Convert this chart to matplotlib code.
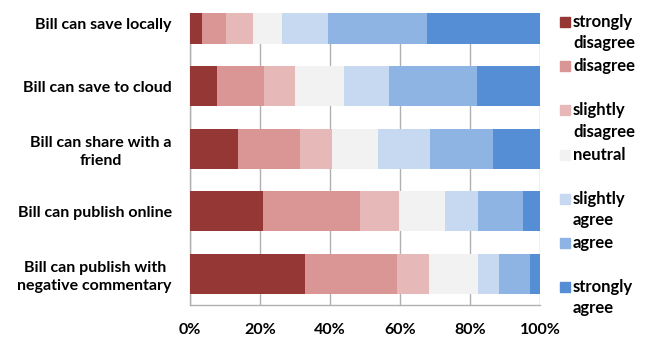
import matplotlib
matplotlib.use('Agg')
import matplotlib.pyplot as plt
from matplotlib.patches import Rectangle
import numpy as np

plt.rcParams['font.family'] = ['Lato', 'DejaVu Sans']
plt.rcParams['font.weight'] = 'bold'

# Statements (top to bottom)
statements = [
    'Bill can save locally',
    'Bill can save to cloud',
    'Bill can share with a\nfriend',
    'Bill can publish online',
    'Bill can publish with\nnegative commentary',
]

levels = ['strongly\ndisagree', 'disagree', 'slightly\ndisagree', 'neutral',
          'slightly\nagree', 'agree', 'strongly\nagree']
colors = ['#953735', '#d99694', '#e6b9b8', '#f2f2f2', '#c6d9f1', '#8eb4e3', '#558ed5']

# Percentage share of each response level, per statement
strongly_disagree = [3.4, 7.8, 13.7, 20.8, 32.9]
disagree = [6.9, 13.4, 17.7, 27.8, 26.3]
slightly_disagree = [7.6, 8.8, 9.1, 11.1, 9.0]
neutral = [8.5, 14.1, 13.1, 13.2, 14.2]
slightly_agree = [13.1, 12.7, 15.1, 9.4, 6.0]
agree = [28.2, 25.1, 17.8, 12.7, 8.7]
strongly_agree = [32.3, 18.1, 13.5, 5.0, 2.9]

series = [strongly_disagree, disagree, slightly_disagree, neutral,
          slightly_agree, agree, strongly_agree]

fig = plt.figure(figsize=(6.45, 3.37), dpi=100)
ax = fig.add_axes([190 / 645, 1 - 305 / 337, 350 / 645, 292 / 337])

ypos = np.arange(len(statements))[::-1]
left = np.zeros(len(statements))
for vals, col in zip(series, colors):
    vals = np.array(vals)
    ax.barh(ypos, vals, left=left, height=0.64, color=col, zorder=3)
    left += vals

ax.set_xlim(0, 100)
ax.set_ylim(-0.5, 4.176)
ax.set_xticks(np.arange(0, 101, 20))
ax.set_xticklabels([f'{v}%' for v in range(0, 101, 20)], fontsize=11.5, fontweight='bold')
ax.set_yticks(ypos)
ax.set_yticklabels(statements, fontsize=11.5, fontweight='bold', multialignment='center',
                   linespacing=1.3)
ax.tick_params(axis='both', length=0)
ax.tick_params(axis='y', pad=13)
ax.tick_params(axis='x', pad=13)

ax.grid(axis='x', color='#b0b0b0', linewidth=1, zorder=0)
for side in ['top', 'right']:
    ax.spines[side].set_visible(False)
for side in ['left', 'bottom']:
    ax.spines[side].set_color('#b0b0b0')
    ax.spines[side].set_linewidth(1)

# Legend, evenly spaced down the right side
for i, (lab, col) in enumerate(zip(levels, colors)):
    yc = 22 + i * 44.2
    fig.add_artist(Rectangle((560 / 645, 1 - (yc + 5) / 337), 10 / 645, 10 / 337,
                             transform=fig.transFigure, color=col))
    fig.text(573 / 645, 1 - (yc - 8) / 337, lab, fontsize=12, fontweight='bold',
             va='top', ha='left', linespacing=1.4)

fig.savefig('out.png', dpi=100)
